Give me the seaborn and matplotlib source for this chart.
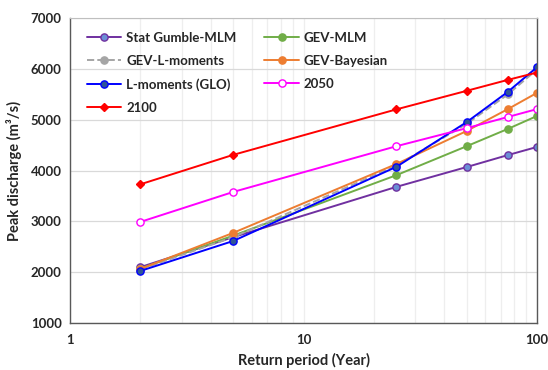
import numpy as np
import pandas as pd
import seaborn as sns
import matplotlib.pyplot as plt
from matplotlib.ticker import FixedLocator, LogLocator, NullFormatter

# return periods (years)
periods = [2, 5, 25, 50, 75, 100]

gumble_mlm = [2100, 2690, 3680, 4070, 4305, 4465]
gev_mlm = [2070, 2720, 3910, 4480, 4820, 5075]
gev_lmom = [2055, 2690, 4100, 4920, 5500, 5990]
gev_bayes = [2065, 2775, 4130, 4780, 5210, 5530]
lmom_glo = [2025, 2615, 4075, 4955, 5550, 6035]
proj_2050 = [2990, 3580, 4480, 4835, 5055, 5210]
proj_2100 = [3730, 4310, 5205, 5570, 5785, 5930]

series = [
    ("Stat Gumble-MLM", gumble_mlm, dict(color="#7030a0", marker="o", mfc="#6b8fd6", mec="#7030a0", ls="-")),
    ("GEV-MLM", gev_mlm, dict(color="#70ad47", marker="o", mfc="#70ad47", mec="#70ad47", ls="-")),
    ("GEV-L-moments", gev_lmom, dict(color="#a5a5a5", marker="o", mfc="#a5a5a5", mec="#a5a5a5", ls="--")),
    ("GEV-Bayesian", gev_bayes, dict(color="#ed7d31", marker="o", mfc="#ed7d31", mec="#ed7d31", ls="-")),
    ("L-moments (GLO)", lmom_glo, dict(color="#0000ff", marker="o", mfc="#2f5597", mec="#0000ff", ls="-")),
    ("2050", proj_2050, dict(color="#ff00ff", marker="o", mfc="white", mec="#ff00ff", ls="-")),
    ("2100", proj_2100, dict(color="#ff0000", marker="D", mfc="#ff0000", mec="#ff0000", ls="-")),
]

sns.set_style("white")
plt.rcParams['font.family'] = ['Lato', 'DejaVu Sans']
plt.rcParams['font.weight'] = 'bold'

fig = plt.figure(figsize=(5.48, 3.70), dpi=100)
ax = fig.add_axes([0.128, 0.127, 0.852, 0.824])

for name, vals, st in series:
    ms = 4.5 if st["marker"] == "D" else 5.2
    sns.lineplot(x=periods, y=vals, ax=ax, label=name, color=st["color"],
                 linestyle=st["ls"], linewidth=1.4, marker=st["marker"],
                 markersize=ms, markerfacecolor=st["mfc"],
                 markeredgecolor=st["mec"], markeredgewidth=1.0)

ax.set_xscale("log")
ax.set_xlim(1, 100)
ax.set_ylim(1000, 7000)
ax.set_yticks(np.arange(1000, 7001, 1000))
ax.xaxis.set_major_locator(FixedLocator([1, 10, 100]))
ax.set_xticklabels(["1", "10", "100"])
ax.xaxis.set_minor_locator(LogLocator(base=10, subs=np.arange(2, 10)))
ax.xaxis.set_minor_formatter(NullFormatter())

ax.grid(True, axis="y", color="#d9d9d9", linewidth=0.9)
ax.grid(True, axis="x", which="both", color="#eeeeee", linewidth=0.9)
ax.set_axisbelow(True)

for side in ["left", "bottom", "right"]:
    ax.spines[side].set_color("#595959")
    ax.spines[side].set_linewidth(1.0)
ax.spines["top"].set_color("#bfbfbf")

ax.tick_params(axis="x", which="both", direction="inout", length=4, color="#595959",
               labelsize=9.5, pad=6)
ax.tick_params(axis="y", length=0, labelsize=9.5, pad=6)
for lab in ax.get_xticklabels() + ax.get_yticklabels():
    lab.set_fontweight("bold")

ax.set_xlabel("Return period (Year)", fontsize=10.5, fontweight="bold", labelpad=5)
ax.set_ylabel("Peak discharge (m³/s)", fontsize=10.5, fontweight="bold", labelpad=6)

# legend filled row by row like the original
handles, labels = ax.get_legend_handles_labels()
order = [0, 2, 4, 6, 1, 3, 5]
leg = ax.legend([handles[i] for i in order], [labels[i] for i in order],
                loc="upper left", ncol=2, frameon=False, fontsize=9.5,
                labelspacing=0.85, columnspacing=2.1, handlelength=2.6,
                handletextpad=0.4, bbox_to_anchor=(0.01, 0.995))
for t in leg.get_texts():
    t.set_fontweight("bold")

fig.savefig("out.png", dpi=100)
